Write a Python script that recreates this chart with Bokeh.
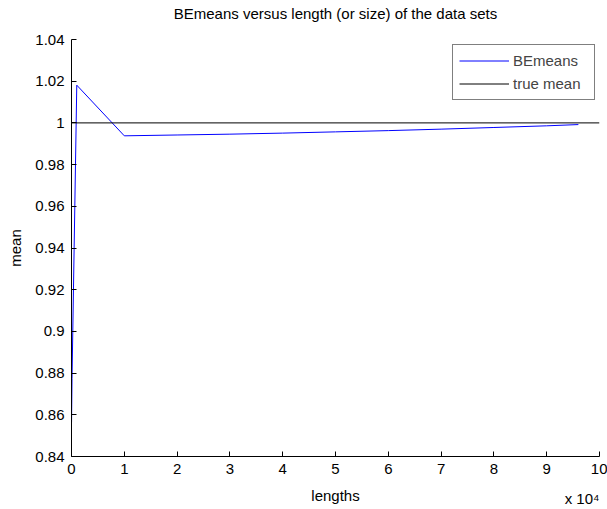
from bokeh.plotting import figure
from bokeh.models import (Legend, LegendItem, FixedTicker, CustomJSTickFormatter,
                          Range1d, Title)
from bokeh.embed import file_html
from bokeh.resources import INLINE

# Data set sizes and the corresponding BE mean estimates
lengths = [10, 100, 1000, 10000, 20000, 30000, 40000, 50000, 60000,
           70000, 80000, 90000, 96000]
be_means = [0.8564, 0.8774, 1.0181, 0.9938, 0.9942, 0.9946, 0.9951, 0.9957,
            0.9963, 0.9970, 0.9978, 0.9986, 0.9992]
true_mean = 1.0

x_ticks = [0, 10000, 20000, 30000, 40000, 50000, 60000, 70000, 80000, 90000, 100000]
y_ticks = [0.84, 0.86, 0.88, 0.90, 0.92, 0.94, 0.96, 0.98, 1.00, 1.02, 1.04]
x_scale_note = "x 10\u2074"
title_text = "BEmeans versus length (or size) of the data sets"

FONT = "Liberation Sans"
FS = "15px"

p = figure(width=607, height=509, frame_width=528, frame_height=417,
           min_border_left=71, min_border_right=8, min_border_top=39,
           min_border_bottom=53, output_backend="svg", toolbar_location=None,
           x_range=Range1d(0, 100000), y_range=Range1d(0.84, 1.04))

p.background_fill_color = "white"
p.border_fill_color = "white"
p.outline_line_color = None
p.xgrid.visible = False
p.ygrid.visible = False

# Title: the trailing blank line lifts the text well clear of the axes
p.title = Title(text=title_text + "\n", align="center", standoff=2,
                text_font=FONT, text_font_size=FS, text_font_style="normal",
                text_color="black")

r_be = p.line(lengths, be_means, line_color="#0000ff", line_width=1)
r_true = p.line([0, 100000], [true_mean, true_mean], line_color="black", line_width=1)

for ax in (p.xaxis[0], p.yaxis[0]):
    ax.axis_line_color = "black"
    ax.major_tick_line_color = "black"
    ax.major_tick_in = 5
    ax.major_tick_out = 0
    ax.minor_tick_line_color = None
    ax.major_label_text_font = FONT
    ax.major_label_text_font_size = FS
    ax.major_label_text_color = "black"
    ax.axis_label_text_font = FONT
    ax.axis_label_text_font_size = FS
    ax.axis_label_text_font_style = "normal"
    ax.axis_label_text_color = "black"

p.xaxis.ticker = FixedTicker(ticks=x_ticks)
p.xaxis.formatter = CustomJSTickFormatter(code="return String(Math.round(tick / 10000));")
p.xaxis.axis_label = "lengths"
p.xaxis.major_label_standoff = 7
p.xaxis.axis_label_standoff = 10

p.yaxis.ticker = FixedTicker(ticks=y_ticks)
p.yaxis.formatter = CustomJSTickFormatter(code="return String(Math.round(tick * 100) / 100);")
p.yaxis.axis_label = "mean"
p.yaxis.major_label_standoff = 7
p.yaxis.axis_label_standoff = 8

# Exponent note for the x axis, right-aligned under its end
note = Title(text=x_scale_note, align="right", vertical_align="top", offset=0,
             standoff=-34, text_font=FONT, text_font_size=FS,
             text_font_style="normal", text_color="black")
p.add_layout(note, "below")

legend = Legend(items=[LegendItem(label="BEmeans", renderers=[r_be]),
                       LegendItem(label="true mean", renderers=[r_true])],
                location=(381, 356), margin=0, padding=6, spacing=4,
                glyph_width=50, glyph_height=19, label_standoff=4, label_width=75,
                label_text_font=FONT, label_text_font_size=FS,
                border_line_color="black", border_line_width=1,
                background_fill_color="white", background_fill_alpha=1.0)
p.add_layout(legend)

open("out.html", "w").write(file_html(p, INLINE))
